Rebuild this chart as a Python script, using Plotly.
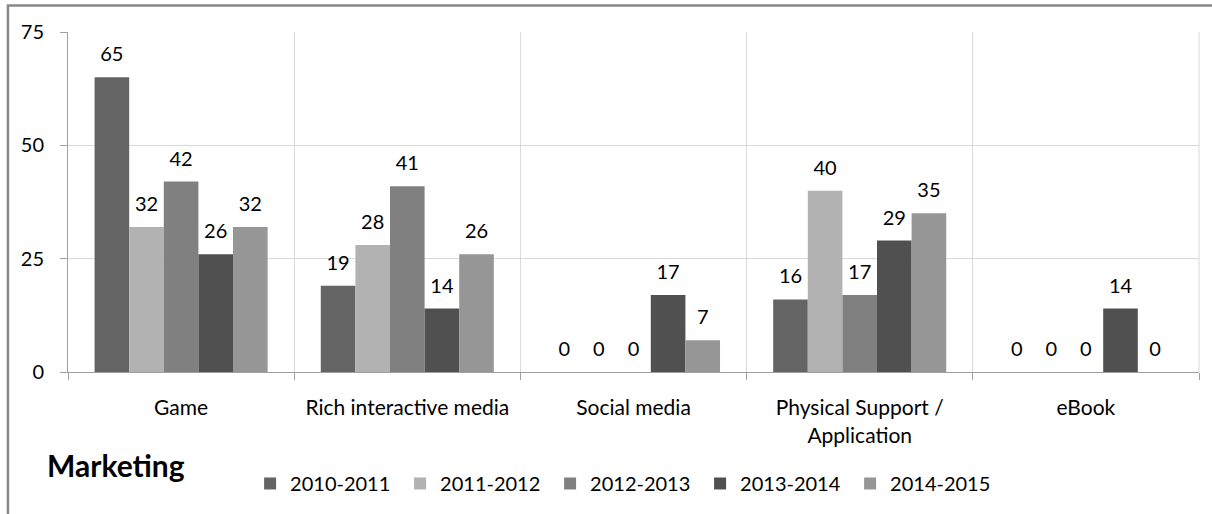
import plotly.graph_objects as go

categories = ["Game", "Rich interactive media", "Social media",
              "Physical Support /<br>Application", "eBook"]
series_names = ["2010-2011", "2011-2012", "2012-2013", "2013-2014", "2014-2015"]
values_2010_2011 = [65, 19, 0, 16, 0]
values_2011_2012 = [32, 28, 0, 40, 0]
values_2012_2013 = [42, 41, 0, 17, 0]
values_2013_2014 = [26, 14, 17, 29, 14]
values_2014_2015 = [32, 26, 7, 35, 0]
series_values = [values_2010_2011, values_2011_2012, values_2012_2013,
                 values_2013_2014, values_2014_2015]
colors = ["#646464", "#b2b2b2", "#808080", "#505050", "#969696"]
y_ticks = [0, 25, 50, 75]

FONT = "Lato"
fig = go.Figure()

for i, (name, vals) in enumerate(zip(series_names, series_values)):
    fig.add_trace(go.Bar(
        x=categories, y=vals, name=name,
        marker=dict(color=colors[i], line=dict(width=0)),
        offsetgroup=str(i), hoverinfo="skip", legendwidth=105,
    ))

for i, (name, vals) in enumerate(zip(series_names, series_values)):
    fig.add_trace(go.Scatter(
        x=categories, y=vals, mode="markers+text", text=[str(v) for v in vals],
        textposition="top center",
        textfont=dict(family=FONT, size=20, color="#000000"),
        marker=dict(size=16, color="rgba(0,0,0,0)"),
        offsetgroup=str(i), showlegend=False, hoverinfo="skip", cliponaxis=False,
    ))

fig.update_layout(
    width=1212, height=514,
    margin=dict(l=68, r=13, t=32, b=141),
    paper_bgcolor="white", plot_bgcolor="white",
    barmode="group", bargap=0.235, bargroupgap=0,
    scattermode="group", scattergap=0.235,
    font=dict(family=FONT, size=20, color="#000000"),
    title=dict(text="<b>Marketing</b>", x=47/1212, xanchor="left",
               y=1-466/514, yanchor="middle", xref="container", yref="container",
               font=dict(family=FONT, size=30, color="#000000")),
    showlegend=True,
    legend=dict(orientation="h", x=0.161, xanchor="left", y=-0.324, yanchor="middle",
                font=dict(family=FONT, size=20, color="#000000"),
                entrywidth=105, traceorder="normal", itemwidth=30),
    xaxis=dict(type="category", tickson="boundaries", showgrid=True,
               gridcolor="#d9d9d9", gridwidth=1,
               showline=True, linecolor="#a0a0a0", linewidth=1,
               ticks="outside", ticklen=7, tickcolor="#a0a0a0",
               tickfont=dict(family=FONT, size=21, color="#000000"),
               ticklabelstandoff=17, zeroline=False),
    yaxis=dict(range=[0, 75], tickvals=y_ticks, showgrid=True,
               gridcolor="#d9d9d9", gridwidth=1,
               showline=True, linecolor="#a0a0a0", linewidth=1,
               ticks="outside", ticklen=7, tickcolor="#a0a0a0",
               tickfont=dict(family=FONT, size=20, color="#000000"),
               ticklabelstandoff=12, zeroline=False),
    shapes=[
        dict(type="path", xref="paper", yref="paper",
             path="M -0.0531,-0.5 L -0.0531,1.0777 L 1.05,1.0777",
             line=dict(color="#888888", width=2.5)),
        dict(type="line", xref="paper", yref="paper", x0=1, x1=1, y0=0, y1=1,
             line=dict(color="#d9d9d9", width=1)),
    ],
)

fig.write_html("out.html")
